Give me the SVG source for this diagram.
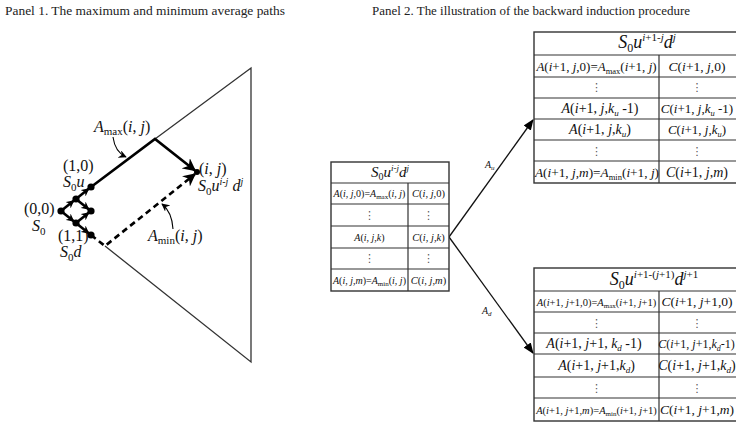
<svg xmlns="http://www.w3.org/2000/svg" width="736" height="422" viewBox="0 0 736 422">
<style>
.title{font-family:"Liberation Serif",serif;font-size:13px;fill:#222}
.tx{font-family:"Liberation Serif",serif;fill:#111}
.i{font-style:italic}
.tb{fill:#fff;stroke:#333;stroke-width:1.4}
.tl{stroke:#333;stroke-width:1.2}
.vd{font-family:"DejaVu Sans",sans-serif;font-size:11px;fill:#555}
.bold{fill:none;stroke:#000;stroke-width:2.6}
.dash{fill:none;stroke:#000;stroke-width:2.6;stroke-dasharray:6 4}
.thin{fill:none;stroke:#333;stroke-width:1.3}
.conn{fill:none;stroke:#111;stroke-width:1.3}
.node{fill:#000}
</style>
<defs>
<marker id="big" viewBox="0 0 10 10" refX="9" refY="5" markerWidth="13" markerHeight="13" markerUnits="userSpaceOnUse" orient="auto"><path d="M0,0 L10,5 L0,10 L3,5 z" fill="#000"/></marker>
<marker id="sm" viewBox="0 0 10 10" refX="9" refY="5" markerWidth="8" markerHeight="8" markerUnits="userSpaceOnUse" orient="auto"><path d="M0,0 L10,5 L0,10 L3,5 z" fill="#000"/></marker>
<marker id="ptr" viewBox="0 0 10 10" refX="9" refY="5" markerWidth="8" markerHeight="8" markerUnits="userSpaceOnUse" orient="auto"><path d="M0,0 L10,5 L0,10 L3,5 z" fill="#000"/></marker>
<marker id="ca" viewBox="0 0 10 10" refX="9" refY="5" markerWidth="11" markerHeight="11" markerUnits="userSpaceOnUse" orient="auto"><path d="M0,1 L10,5 L0,9 z" fill="#000"/></marker>
</defs>

<text class="title" x="5" y="15" textLength="280" lengthAdjust="spacingAndGlyphs">Panel 1. The maximum and minimum average paths</text>
<text class="title" x="372" y="15" textLength="318" lengthAdjust="spacingAndGlyphs">Panel 2. The illustration of the backward induction procedure</text>

<!-- Panel 1 -->
<g id="triangle">
<path class="thin" d="M155,139 L251,68 L251,362 L105,246"/>
</g>
<g id="connectors">
<path class="bold" d="M61,211 L73.7,200.8" marker-end="url(#sm)"/>
<path class="bold" d="M61,211 L73.7,221.2" marker-end="url(#sm)"/>
<path class="bold" d="M76,199 L88.7,188.8" marker-end="url(#sm)"/>
<path class="bold" d="M76,199 L88.7,209.2" marker-end="url(#sm)"/>
<path class="bold" d="M76,223 L88.7,212.8" marker-end="url(#sm)"/>
<path class="bold" d="M76,223 L88.7,233.2" marker-end="url(#sm)"/>
<path class="bold" d="M91,187 L155,139 L195,170.5" marker-end="url(#big)"/>
<path class="dash" d="M91,235 L105,246 L195,174" marker-end="url(#big)"/>
<path fill="none" stroke="#000" stroke-width="1.1" d="M113,137 Q115,152 126,157" marker-end="url(#ptr)"/>
<path fill="none" stroke="#000" stroke-width="1.1" d="M173,229 Q172,212 162,204" marker-end="url(#ptr)"/>
<path class="conn" d="M449,237 L533,120" marker-end="url(#ca)"/>
<path class="conn" d="M449,237 L533,353" marker-end="url(#ca)"/>
</g>
<g id="nodes">
<circle class="node" cx="61" cy="211" r="3.6"/>
<circle class="node" cx="76" cy="199" r="3.6"/>
<circle class="node" cx="76" cy="223" r="3.6"/>
<circle class="node" cx="91" cy="187" r="3.6"/>
<circle class="node" cx="91" cy="211" r="3.6"/>
<circle class="node" cx="91" cy="235" r="3.6"/>
<circle class="node" cx="197" cy="172" r="3"/>
</g>
<g id="labels-p1" class="tx" font-size="16">
<text x="63" y="171">(1,0)</text>
<text x="63" y="187"><tspan class="i">S</tspan><tspan dy="4" font-size="11">0</tspan><tspan class="i" dy="-4">u</tspan></text>
<text x="24" y="214">(0,0)</text>
<text x="32" y="231"><tspan class="i">S</tspan><tspan dy="4" font-size="11">0</tspan></text>
<text x="58" y="241">(1,1)</text>
<text x="60" y="257"><tspan class="i">S</tspan><tspan dy="4" font-size="11">0</tspan><tspan class="i" dy="-4">d</tspan></text>
<text x="199" y="174">(<tspan class="i">i</tspan>, <tspan class="i">j</tspan>)</text>
<text x="198" y="191"><tspan class="i">S</tspan><tspan dy="4" font-size="11">0</tspan><tspan class="i" dy="-4">u</tspan><tspan class="i" dy="-6" font-size="10">i-j</tspan><tspan class="i" dy="6"> d</tspan><tspan class="i" dy="-6" font-size="10">j</tspan></text>
<text x="94" y="132"><tspan class="i">A</tspan><tspan dy="3" font-size="11">max</tspan><tspan dy="-3">(<tspan class="i">i</tspan>, <tspan class="i">j</tspan>)</tspan></text>
<text x="148" y="241"><tspan class="i">A</tspan><tspan dy="3" font-size="11">min</tspan><tspan dy="-3">(<tspan class="i">i</tspan>, <tspan class="i">j</tspan>)</tspan></text>
</g>

<!-- Panel 2 : middle table -->
<g id="table-ij">
<rect class="tb" x="331" y="162" width="118" height="129"/>
<path class="tl" d="M331,183H449M331,204H449M331,226H449M331,248H449M331,269H449M408,183V291"/>
<text class="tx" font-size="15" x="390" y="177" text-anchor="middle"><tspan class="i">S</tspan><tspan dy="3" font-size="10">0</tspan><tspan class="i" dy="-3">u</tspan><tspan class="i" dy="-6" font-size="9">i-j</tspan><tspan class="i" dy="6">d</tspan><tspan class="i" dy="-6" font-size="9">j</tspan></text>
<text class="tx" font-size="10" x="369.5" y="197" text-anchor="middle"><tspan class="i">A</tspan>(<tspan class="i">i</tspan>, <tspan class="i">j</tspan>,0)=<tspan class="i">A</tspan><tspan dy="2" font-size="7">max</tspan><tspan dy="-2">(<tspan class="i">i</tspan>, <tspan class="i">j</tspan>)</tspan></text>
<text class="tx" font-size="10.5" x="428.5" y="197" text-anchor="middle"><tspan class="i">C</tspan>(<tspan class="i">i</tspan>, <tspan class="i">j</tspan>,0)</text>
<text class="vd" x="369.5" y="219" text-anchor="middle">⋮</text>
<text class="vd" x="428.5" y="219" text-anchor="middle">⋮</text>
<text class="tx" font-size="10" x="369.5" y="241" text-anchor="middle"><tspan class="i">A</tspan>(<tspan class="i">i</tspan>, <tspan class="i">j</tspan>,<tspan class="i">k</tspan>)</text>
<text class="tx" font-size="10.5" x="428.5" y="241" text-anchor="middle"><tspan class="i">C</tspan>(<tspan class="i">i</tspan>, <tspan class="i">j</tspan>,<tspan class="i">k</tspan>)</text>
<text class="vd" x="369.5" y="262" text-anchor="middle">⋮</text>
<text class="vd" x="428.5" y="262" text-anchor="middle">⋮</text>
<text class="tx" font-size="10" x="369.5" y="284" text-anchor="middle"><tspan class="i">A</tspan>(<tspan class="i">i</tspan>, <tspan class="i">j</tspan>,<tspan class="i">m</tspan>)=<tspan class="i">A</tspan><tspan dy="2" font-size="7">min</tspan><tspan dy="-2">(<tspan class="i">i</tspan>, <tspan class="i">j</tspan>)</tspan></text>
<text class="tx" font-size="10.5" x="428.5" y="284" text-anchor="middle"><tspan class="i">C</tspan>(<tspan class="i">i</tspan>, <tspan class="i">j</tspan>,<tspan class="i">m</tspan>)</text>
</g>
<g id="labels-p2" class="tx" font-size="10">
<text x="485" y="168"><tspan class="i">A</tspan><tspan class="i" dy="2" font-size="7">u</tspan></text>
<text x="482" y="314"><tspan class="i">A</tspan><tspan class="i" dy="2" font-size="7">d</tspan></text>
</g>

<!-- top-right table -->
<g id="table-up">
<rect class="tb" x="534" y="32" width="212" height="151"/>
<path class="tl" d="M534,55H746M534,77H746M534,98H746M534,119H746M534,140H746M534,161H746M659,55V183"/>
<text class="tx" font-size="18" x="647" y="48" text-anchor="middle"><tspan class="i">S</tspan><tspan dy="4" font-size="12">0</tspan><tspan class="i" dy="-4">u</tspan><tspan dy="-7" font-size="11"><tspan class="i">i</tspan>+1-<tspan class="i">j</tspan></tspan><tspan class="i" dy="7">d</tspan><tspan class="i" dy="-7" font-size="11">j</tspan></text>
<text class="tx" font-size="13" x="596.5" y="71" text-anchor="middle"><tspan class="i">A</tspan>(<tspan class="i">i</tspan>+1, <tspan class="i">j</tspan>,0)=<tspan class="i">A</tspan><tspan dy="3" font-size="8.5">max</tspan><tspan dy="-3">(<tspan class="i">i</tspan>+1, <tspan class="i">j</tspan>)</tspan></text>
<text class="tx" font-size="13.5" x="697" y="71" text-anchor="middle"><tspan class="i">C</tspan>(<tspan class="i">i</tspan>+1, <tspan class="i">j</tspan>,0)</text>
<text class="vd" x="596.5" y="91" text-anchor="middle">⋮</text>
<text class="vd" x="697" y="91" text-anchor="middle">⋮</text>
<text class="tx" font-size="14" x="600" y="113" text-anchor="middle"><tspan class="i">A</tspan>(<tspan class="i">i</tspan>+1, <tspan class="i">j</tspan>,<tspan class="i">k</tspan><tspan class="i" dy="3" font-size="9">u</tspan><tspan dy="-3"> -1)</tspan></text>
<text class="tx" font-size="13" x="697" y="113" text-anchor="middle"><tspan class="i">C</tspan>(<tspan class="i">i</tspan>+1, <tspan class="i">j</tspan>,<tspan class="i">k</tspan><tspan class="i" dy="3" font-size="8.5">u</tspan><tspan dy="-3"> -1)</tspan></text>
<text class="tx" font-size="14" x="600" y="134" text-anchor="middle"><tspan class="i">A</tspan>(<tspan class="i">i</tspan>+1, <tspan class="i">j</tspan>,<tspan class="i">k</tspan><tspan class="i" dy="3" font-size="9">u</tspan><tspan dy="-3">)</tspan></text>
<text class="tx" font-size="13" x="697" y="134" text-anchor="middle"><tspan class="i">C</tspan>(<tspan class="i">i</tspan>+1, <tspan class="i">j</tspan>,<tspan class="i">k</tspan><tspan class="i" dy="3" font-size="8.5">u</tspan><tspan dy="-3">)</tspan></text>
<text class="vd" x="596.5" y="155" text-anchor="middle">⋮</text>
<text class="vd" x="697" y="155" text-anchor="middle">⋮</text>
<text class="tx" font-size="13.3" x="597" y="177" text-anchor="middle"><tspan class="i">A</tspan>(<tspan class="i">i</tspan>+1, <tspan class="i">j</tspan>,<tspan class="i">m</tspan>)=<tspan class="i">A</tspan><tspan dy="3" font-size="8.5">min</tspan><tspan dy="-3">(<tspan class="i">i</tspan>+1, <tspan class="i">j</tspan>)</tspan></text>
<text class="tx" font-size="14" x="697" y="177" text-anchor="middle"><tspan class="i">C</tspan>(<tspan class="i">i</tspan>+1, <tspan class="i">j</tspan>,<tspan class="i">m</tspan>)</text>
</g>

<!-- bottom-right table -->
<g id="table-down">
<rect class="tb" x="534" y="268" width="212" height="153"/>
<path class="tl" d="M534,291H746M534,312H746M534,333H746M534,354H746M534,377H746M534,398H746M659,291V421"/>
<text class="tx" font-size="18" x="654" y="285" text-anchor="middle"><tspan class="i">S</tspan><tspan dy="4" font-size="12">0</tspan><tspan class="i" dy="-4">u</tspan><tspan dy="-7" font-size="11"><tspan class="i">i</tspan>+1-(<tspan class="i">j</tspan>+1)</tspan><tspan class="i" dy="7">d</tspan><tspan dy="-7" font-size="11"><tspan class="i">j</tspan>+1</tspan></text>
<text class="tx" font-size="10.5" x="596.5" y="306" text-anchor="middle"><tspan class="i">A</tspan>(<tspan class="i">i</tspan>+1, <tspan class="i">j</tspan>+1,0)=<tspan class="i">A</tspan><tspan dy="2" font-size="7">max</tspan><tspan dy="-2">(<tspan class="i">i</tspan>+1, <tspan class="i">j</tspan>+1)</tspan></text>
<text class="tx" font-size="13.5" x="697" y="306" text-anchor="middle"><tspan class="i">C</tspan>(<tspan class="i">i</tspan>+1, <tspan class="i">j</tspan>+1,0)</text>
<text class="vd" x="596.5" y="327" text-anchor="middle">⋮</text>
<text class="vd" x="697" y="327" text-anchor="middle">⋮</text>
<text class="tx" font-size="14" x="594" y="348" text-anchor="middle"><tspan class="i">A</tspan>(<tspan class="i">i</tspan>+1, <tspan class="i">j</tspan>+1, <tspan class="i">k</tspan><tspan class="i" dy="3" font-size="9">d</tspan><tspan dy="-3"> -1)</tspan></text>
<text class="tx" font-size="12" x="696.5" y="348" text-anchor="middle"><tspan class="i">C</tspan>(<tspan class="i">i</tspan>+1, <tspan class="i">j</tspan>+1,<tspan class="i">k</tspan><tspan class="i" dy="3" font-size="8">d</tspan><tspan dy="-3">-1)</tspan></text>
<text class="tx" font-size="14" x="596.5" y="370" text-anchor="middle"><tspan class="i">A</tspan>(<tspan class="i">i</tspan>+1, <tspan class="i">j</tspan>+1,<tspan class="i">k</tspan><tspan class="i" dy="3" font-size="9">d</tspan><tspan dy="-3">)</tspan></text>
<text class="tx" font-size="14" x="697" y="370" text-anchor="middle"><tspan class="i">C</tspan>(<tspan class="i">i</tspan>+1, <tspan class="i">j</tspan>+1,<tspan class="i">k</tspan><tspan class="i" dy="3" font-size="9">d</tspan><tspan dy="-3">)</tspan></text>
<text class="vd" x="596.5" y="392" text-anchor="middle">⋮</text>
<text class="vd" x="697" y="392" text-anchor="middle">⋮</text>
<text class="tx" font-size="10.5" x="596.5" y="414" text-anchor="middle"><tspan class="i">A</tspan>(<tspan class="i">i</tspan>+1, <tspan class="i">j</tspan>+1,<tspan class="i">m</tspan>)=<tspan class="i">A</tspan><tspan dy="2" font-size="7">min</tspan><tspan dy="-2">(<tspan class="i">i</tspan>+1, <tspan class="i">j</tspan>+1)</tspan></text>
<text class="tx" font-size="13.5" x="697" y="414" text-anchor="middle"><tspan class="i">C</tspan>(<tspan class="i">i</tspan>+1, <tspan class="i">j</tspan>+1,<tspan class="i">m</tspan>)</text>
</g>
</svg>
